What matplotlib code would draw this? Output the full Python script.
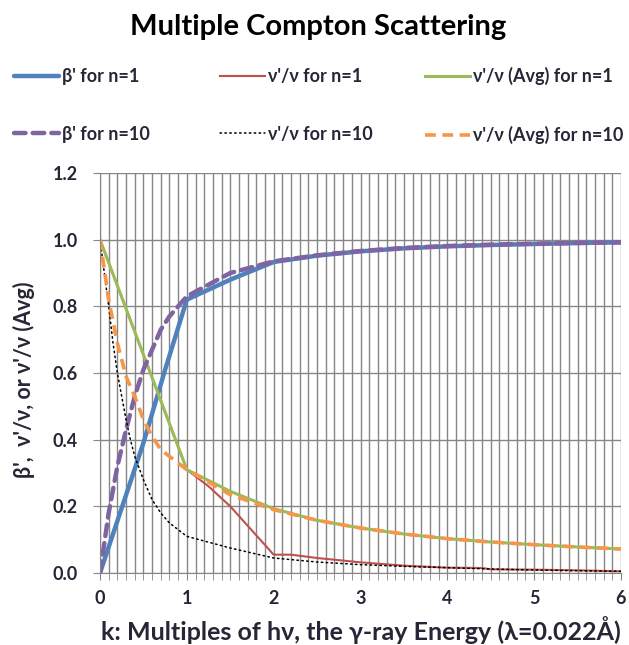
import matplotlib
matplotlib.use('Agg')
import matplotlib.pyplot as plt
from matplotlib.ticker import MultipleLocator

plt.rcParams['font.family'] = ['Lato', 'DejaVu Sans']
plt.rcParams['font.weight'] = 'bold'

# beta' and nu'/nu for one scattering (n=1)
k_beta1 = [0, 0.5, 0.75, 1, 1.5, 2, 2.5, 3, 3.5, 4, 4.5, 5, 5.5, 6]
beta1 = [0, 0.39, 0.61, 0.82, 0.88, 0.933, 0.952, 0.965, 0.974, 0.98, 0.984, 0.987, 0.99, 0.992]

k_nu1 = [0, 1, 1.25, 1.5, 2, 2.2, 2.5, 3, 3.5, 4, 4.4, 4.5, 5, 5.5, 6]
nu1 = [1.0, 0.31, 0.26, 0.20, 0.055, 0.055, 0.045, 0.032, 0.022, 0.016, 0.015, 0.011, 0.01, 0.008, 0.005]

k_avg1 = [0, 1, 1.5, 2, 2.5, 3, 3.5, 4, 4.5, 5, 5.5, 6]
avg1 = [1.0, 0.31, 0.245, 0.193, 0.158, 0.135, 0.117, 0.103, 0.093, 0.085, 0.078, 0.072]

# ten scatterings (n=10)
k_beta10 = [0, 0.1, 0.2, 0.3, 0.4, 0.5, 0.6, 0.7, 0.8, 0.9, 1, 1.5, 2, 2.5, 3, 3.5, 4, 4.5, 5, 5.5, 6]
beta10 = [0, 0.18, 0.32, 0.43, 0.53, 0.61, 0.67, 0.73, 0.77, 0.80, 0.83, 0.90, 0.935, 0.953,
          0.966, 0.975, 0.981, 0.985, 0.988, 0.99, 0.992]

k_nu10 = [0, 0.05, 0.1, 0.15, 0.2, 0.25, 0.3, 0.35, 0.4, 0.5, 0.6, 0.7, 0.8, 0.9, 1,
          1.5, 2, 2.5, 3, 3.5, 4, 4.5, 5, 5.5, 6]
nu10 = [1.0, 0.9, 0.8, 0.69, 0.6, 0.53, 0.46, 0.4, 0.35, 0.28, 0.22, 0.18, 0.15, 0.13, 0.11,
        0.075, 0.045, 0.033, 0.025, 0.02, 0.016, 0.012, 0.009, 0.007, 0.005]

k_avg10 = [0, 0.1, 0.2, 0.3, 0.4, 0.5, 0.6, 0.7, 0.8, 0.9, 1, 1.5, 2, 2.5, 3, 3.5, 4, 4.5, 5, 5.5, 6]
avg10 = [1.0, 0.82, 0.69, 0.59, 0.53, 0.46, 0.41, 0.37, 0.35, 0.33, 0.31, 0.235, 0.19, 0.158,
         0.135, 0.117, 0.103, 0.093, 0.085, 0.078, 0.072]

labels = ["β' for n=1", "ν'/ν for n=1", "ν'/ν (Avg) for n=1",
          "β' for n=10", "ν'/ν for n=10", "ν'/ν (Avg) for n=10"]

W, H = 629, 645
fig = plt.figure(figsize=(W / 100, H / 100), dpi=100)
ax = fig.add_axes([100 / W, 1 - 573 / H, 521 / W, 400 / H])

h1, = ax.plot(k_beta1, beta1, color='#4F81BD', lw=3.2, solid_capstyle='round')
h2, = ax.plot(k_nu1, nu1, color='#C0504D', lw=1.5)
h3, = ax.plot(k_avg1, avg1, color='#9BBB59', lw=2.2)
h4, = ax.plot(k_beta10, beta10, color='#8064A2', lw=3.2, dashes=(2.6, 1.6), dash_capstyle='round')
h5, = ax.plot(k_nu10, nu10, color='black', lw=1.1, dashes=(1, 2.2), dash_capstyle='round')
h6, = ax.plot(k_avg10, avg10, color='#F79646', lw=2.6, dashes=(3, 1.8))

ax.set_xlim(0, 6)
ax.set_ylim(0, 1.2)
ax.xaxis.set_major_locator(MultipleLocator(1))
ax.xaxis.set_minor_locator(MultipleLocator(0.1))
ax.yaxis.set_major_locator(MultipleLocator(0.2))
ax.yaxis.set_major_formatter(plt.FormatStrFormatter('%.1f'))
ax.grid(which='both', axis='x', color='#868686', lw=1.0)
ax.grid(which='major', axis='y', color='#868686', lw=1.0)
ax.set_axisbelow(True)
for s in ['top', 'right']:
    ax.spines[s].set_visible(False)
for s in ['left', 'bottom']:
    ax.spines[s].set_color('#868686')
ax.tick_params(which='both', color='#868686', length=5, direction='out',
               labelsize=13, labelcolor='#262636')
ax.tick_params(axis='x', pad=7)
ax.tick_params(axis='y', pad=11)
for t in ax.get_xticklabels() + ax.get_yticklabels():
    t.set_fontweight('bold')

fig.text(0.505, 1 - 27 / H, 'Multiple Compton Scattering', ha='center', va='center',
         fontsize=21, fontweight='bold', color='black')
fig.text(24 / W, 1 - 380 / H, "β',  ν'/ν, or ν'/ν (Avg)", rotation=90, ha='center', va='center',
         fontsize=15.5, fontweight='bold', color='#262636')
fig.text(361 / W, 1 - 630 / H, 'k: Multiples of hν, the γ-ray Energy (λ=0.022Å)',
         ha='center', va='center', fontsize=18, fontweight='bold', color='#262636')

handles = [h1, h2, h3, h4, h5, h6]
col_x = [14, 220, 425]
for c in range(3):
    leg = fig.legend([handles[c], handles[c + 3]], [labels[c], labels[c + 3]],
                     loc='center left', bbox_to_anchor=(col_x[c] / W, 1 - 105.5 / H),
                     frameon=False, fontsize=13, handlelength=2.5, handletextpad=0.15,
                     labelspacing=2.25, borderpad=0, borderaxespad=0)
    for t in leg.get_texts():
        t.set_fontweight('bold')
        t.set_color('#262636')

fig.savefig('out.png', dpi=100)
